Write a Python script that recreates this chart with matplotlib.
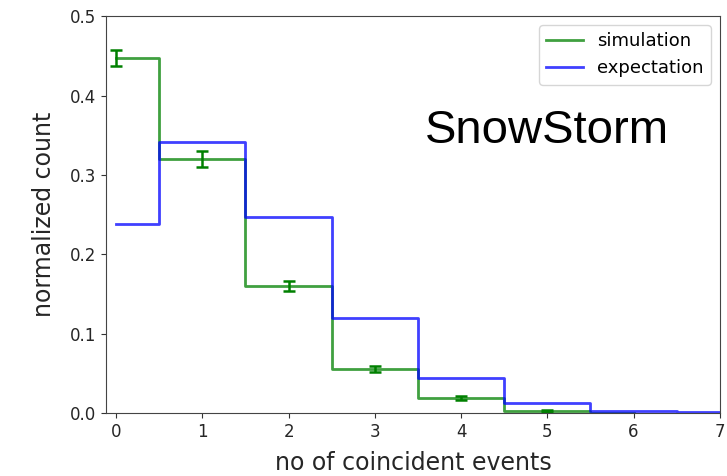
import matplotlib
matplotlib.use("Agg")
import matplotlib.pyplot as plt
import numpy as np

# coincident event counts
n_coinc = [0, 1, 2, 3, 4, 5, 6, 7]

# simulation histogram (normalized) with errors
sim_vals = [0.447, 0.320, 0.160, 0.056, 0.019, 0.003, 0.0005]
sim_errs = [0.010, 0.010, 0.006, 0.004, 0.003, 0.001]

# expected distribution
exp_vals = [0.238, 0.342, 0.247, 0.120, 0.044, 0.013, 0.003, 0.001]

fig = plt.figure(figsize=(7.27, 4.76), dpi=100)
ax = fig.add_axes([0.146, 0.132, 0.844, 0.834])

ax.step(n_coinc[:len(sim_vals)], sim_vals, where='mid', color='green',
        alpha=0.75, lw=2, label='simulation')
ax.step(n_coinc, exp_vals, where='mid', color='blue',
        alpha=0.75, lw=2, label='expectation')
ax.errorbar(n_coinc[:len(sim_errs)], sim_vals[:len(sim_errs)], yerr=sim_errs,
            fmt='none', ecolor='green', elinewidth=1.8, capsize=4, capthick=1.8)

ax.set_xlim(-0.116, 7)
ax.set_ylim(0, 0.5)
ax.set_xticks(range(8))
ax.set_yticks(np.arange(0, 0.51, 0.1))
ax.tick_params(labelsize=12, colors='#333333', labelcolor='#262626')
for s in ax.spines.values():
    s.set_color('#444444')

ax.set_xlabel("no of coincident events", fontsize=17, color='#262626', labelpad=7)
ax.set_ylabel("normalized count", fontsize=17, color='#262626', labelpad=10)

ax.legend(loc='upper right', fontsize=13)

ax.text(0.52, 0.68, "SnowStorm", transform=ax.transAxes, fontsize=34,
        family='Liberation Sans', ha='left', va='baseline')

plt.savefig('out.png', dpi=100)
